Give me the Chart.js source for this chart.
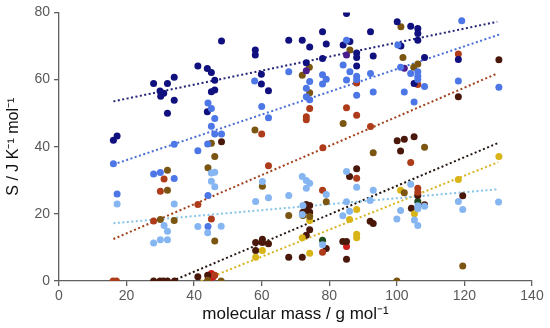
<!DOCTYPE html>
<html><head><meta charset="utf-8">
<script src="https://cdn.jsdelivr.net/npm/chart.js@4.4.0/dist/chart.umd.min.js"></script>
<style>html,body{margin:0;padding:0;background:#fff}#c{display:block}</style>
</head><body>
<canvas id="c" width="550" height="328"></canvas>
<script>
const xTicks = [0,20,40,60,80,100,120,140];
const yTicks = [0,20,40,60,80];

const navy = [[41.1,64.0],[34.1,60.7],[28.0,58.8],[32.1,58.8],[29.9,56.6],[31.0,55.9],[30.1,55.0],[34.1,53.8],[32.1,50.0],[17.2,43.2],[16.1,41.9],
[48.1,71.5],[68.0,71.7],[72.0,71.7],[58.1,68.8],[58.1,67.3],[43.9,63.3],[45.1,62.1],[46.1,59.8],[46.1,56.9],[45.1,56.4],[59.9,61.6],[59.9,58.7],[62.0,56.7],[43.9,50.4],
[85.1,79.7],[74.2,69.7],[78.0,74.2],[79.1,70.6],[84.1,70.3],[86.1,71.3],[92.2,74.2],[100.1,77.2],[104.1,75.9],[106.2,75.2],[106.2,73.7],[106.2,71.7],[101.2,70.0],[88.1,67.9],[88.1,66.6],[93.0,67.0],[78.0,66.3],[73.2,65.0],[88.1,64.0],[105.1,58.8],[108.2,66.6],[118.2,66.0]];

const purple = [[85.1,67.3],[73.2,62.6],[102.2,63.4]];

const blue = [[34.1,40.7],[68.0,62.3],[57.9,59.6],[44.1,53.0],[45.1,51.4],[46.1,48.4],[45.1,46.1],[60.0,52.0],[62.0,48.6],[46.1,43.8],[48.1,43.8],[44.0,40.8],[41.1,38.8],[16.1,34.9],
[85.1,71.7],[100.3,70.3],[84.1,64.3],[86.1,62.3],[78.0,61.4],[79.1,60.1],[78.0,58.7],[85.1,59.9],[88.1,61.0],[88.1,60.0],[88.1,55.3],[92.2,61.8],[93.0,56.3],[74.2,59.4],[73.2,57.4],[73.2,54.9],[74.2,54.0],
[101.1,63.7],[104.1,61.8],[106.2,62.3],[106.2,61.0],[106.2,60.0],[108.2,57.9],[102.2,56.3],[105.1,53.3],[118.2,59.6],[130.2,57.7],[119.2,77.5],
[28.0,31.9],[30.0,32.3],[34.1,30.5],[17.2,25.9],[44.1,25.5],[44.1,16.2]];

const lightBlue = [[17.2,22.9],[34.1,22.9],[31.1,16.5],[32.1,14.8],[30.0,12.3],[32.1,12.3],[28.0,11.3],[41.1,16.2],[44.0,14.4],[48.0,16.3],
[45.1,32.2],[46.1,32.4],[45.1,29.7],[46.1,28.1],[60.2,29.6],[58.2,23.7],[62.0,24.8],[68.0,25.5],[72.0,31.1],[72.0,19.8],[73.2,29.9],[74.2,29.1],[73.2,27.6],
[85.1,32.6],[88.1,27.9],[79.1,25.8],[72.2,22.5],[85.1,23.6],[86.0,20.8],[84.0,19.4],[93.0,27.0],[92.1,24.0],[101.1,21.0],[100.0,18.5],[78.0,10.8],
[104.1,28.8],[106.2,22.4],[106.2,21.5],[108.2,22.3],[105.2,18.2],[106.2,16.5],[118.2,23.7],[119.5,21.3],[130.1,23.5]];

const rust = [[60.0,43.8],[74.2,51.4],[73.2,48.9],[73.2,48.0],[85.1,51.6],[88.1,49.4],[92.2,46.0],[78.1,39.7],[88.1,59.0],[106.2,58.5],[118.2,67.6],[104.1,35.3],
[31.1,30.4],[30.0,26.7],[41.1,22.8],[28.0,17.9],[45.1,18.5],[62.0,34.3],[78.0,27.0],[88.1,30.6],[78.0,8.6],[106.2,27.6],[106.2,26.4],[16.0,0],[17.0,0],[46.1,1.7]];

const olive = [[58.0,45.0],[45.1,41.0],[46.1,37.1],[72.0,61.3],[101.2,75.7],[86.1,68.8],[74.1,63.7],[74.2,56.1],[84.1,46.9],[93.0,38.2],[101.8,66.6],[105.0,63.7],[106.2,64.6],[108.2,39.8],
[32.1,33.0],[32.1,27.0],[30.0,18.3],[34.1,18.0],[44.1,33.7],[46.1,11.9],[60.2,28.2],[68.0,19.5],[79.1,23.6],[72.2,19.5],[74.2,19.2],[100.0,0],[119.5,4.5],[48.0,0],[44.0,0.2],[102.2,26.3]];

const darkBrown = [[48.1,41.5],[100.1,41.8],[102.2,42.2],[105.1,43.0],[101.1,38.7],[118.2,54.9],[130.2,65.9],
[28.0,0],[29.9,0],[30.9,0],[32.1,0],[34.2,0],[41.1,1.3],[44.0,1.7],
[58.2,11.5],[60.2,12.4],[60.2,11.5],[62.0,11.1],[58.2,9.1],[68.0,7.1],[72.0,7.1],
[88.1,33.4],[86.0,31.1],[73.2,22.8],[74.2,22.5],[72.2,20.5],[73.2,21.0],[74.2,20.5],[74.2,15.3],[73.2,13.6],[92.1,17.8],[93.0,17.1],[79.1,9.7],[84.0,11.8],[85.1,11.8],[85.1,6.5],[104.3,21.7],[108.2,22.7],[106.2,25.5],[119.5,25.4]];

const gold = [[60.2,9.1],[58.2,7.1],[72.0,12.9],[74.2,18.0],[74.2,8.3],[88.1,21.3],[86.0,18.3],[88.1,13.9],[88.1,12.9],[101.1,27.0],[105.2,20.0],[118.2,30.2],[130.2,37.1]];

const red = [[45.1,2.2],[45.6,1.2],[44.6,0.8],[85.1,10.3]];
const green = [[106.2,23.7],[78.0,12.1]];

const trendNavy = [[16.1,53.5],[129.7,77.2]];
const trendBlue = [[16.1,34.7],[130.6,73.5]];
const trendLightBlue = [[16.1,17.2],[129.7,27.3]];
const trendRust = [[16.1,12.5],[129.7,61.8]];
const trendBlack = [[33.5,0],[130.2,41.2]];
const trendGold = [[42.0,0],[130.0,35.4]];

const toXY = a => a.map(p => ({x:p[0], y:p[1]}));
function pts(data, color){
  return {type:'scatter', data:toXY(data), backgroundColor:color, borderColor:color, pointRadius:3.5, pointBorderWidth:0, order:0};
}
function trend(data, color){
  return {type:'line', data:toXY(data), borderColor:color, borderWidth:2, borderDash:[2,2.5], pointRadius:0, fill:false, order:1};
}

const FONT = "'Liberation Sans', Arial, sans-serif";
new Chart(document.getElementById('c'), {
  type:'scatter',
  data:{datasets:[
    trend(trendNavy,'#23237a'),
    trend(trendBlue,'#4a70d6'),
    trend(trendLightBlue,'#86c3e8'),
    trend(trendRust,'#a0401c'),
    trend(trendBlack,'#241510'),
    trend(trendGold,'#d8b420'),
    pts(lightBlue,'#86b6f2'),
    pts(blue,'#4d76e6'),
    pts(navy,'#10107e'),
    pts(purple,'#4a1c8c'),
    pts(rust,'#ae3c1a'),
    pts(olive,'#7a5612'),
    pts(gold,'#d8b418'),
    pts(darkBrown,'#4a180a'),
    pts(red,'#cc1c1c'),
    pts(green,'#1c4a1c')
  ]},
  options:{
    responsive:false, animation:false, events:[],
    layout:{padding:{top:12,right:18,bottom:0,left:0}},
    plugins:{legend:{display:false}, tooltip:{enabled:false}},
    scales:{
      x:{type:'linear', min:0, max:140,
        afterFit:s=>{s.height=47;},
        afterBuildTicks:s=>{s.ticks = xTicks.map(v=>({value:v}));},
        grid:{display:true, drawOnChartArea:false, drawTicks:true, tickLength:5, color:'#606060', lineWidth:1.3},
        border:{display:true, color:'#606060', width:1.3},
        ticks:{color:'#595959', font:{family:FONT, size:14}, padding:2, maxRotation:0},
        title:{display:true, text:'molecular mass / g mol\u207B\u00B9', color:'#111', font:{family:FONT, size:17}, padding:{top:0,bottom:3}}
      },
      y:{type:'linear', min:0, max:80,
        afterFit:s=>{s.width=59;},
        afterBuildTicks:s=>{s.ticks = yTicks.map(v=>({value:v}));},
        grid:{display:true, drawOnChartArea:false, drawTicks:true, tickLength:5, color:'#606060', lineWidth:1.3},
        border:{display:true, color:'#606060', width:1.3},
        ticks:{color:'#595959', font:{family:FONT, size:14}, padding:4},
        title:{display:true, text:'S / J K\u207B\u00B9 mol\u207B\u00B9', color:'#111', font:{family:FONT, size:16}, padding:{top:4,bottom:0}}
      }
    }
  }
});
</script>
</body></html>
